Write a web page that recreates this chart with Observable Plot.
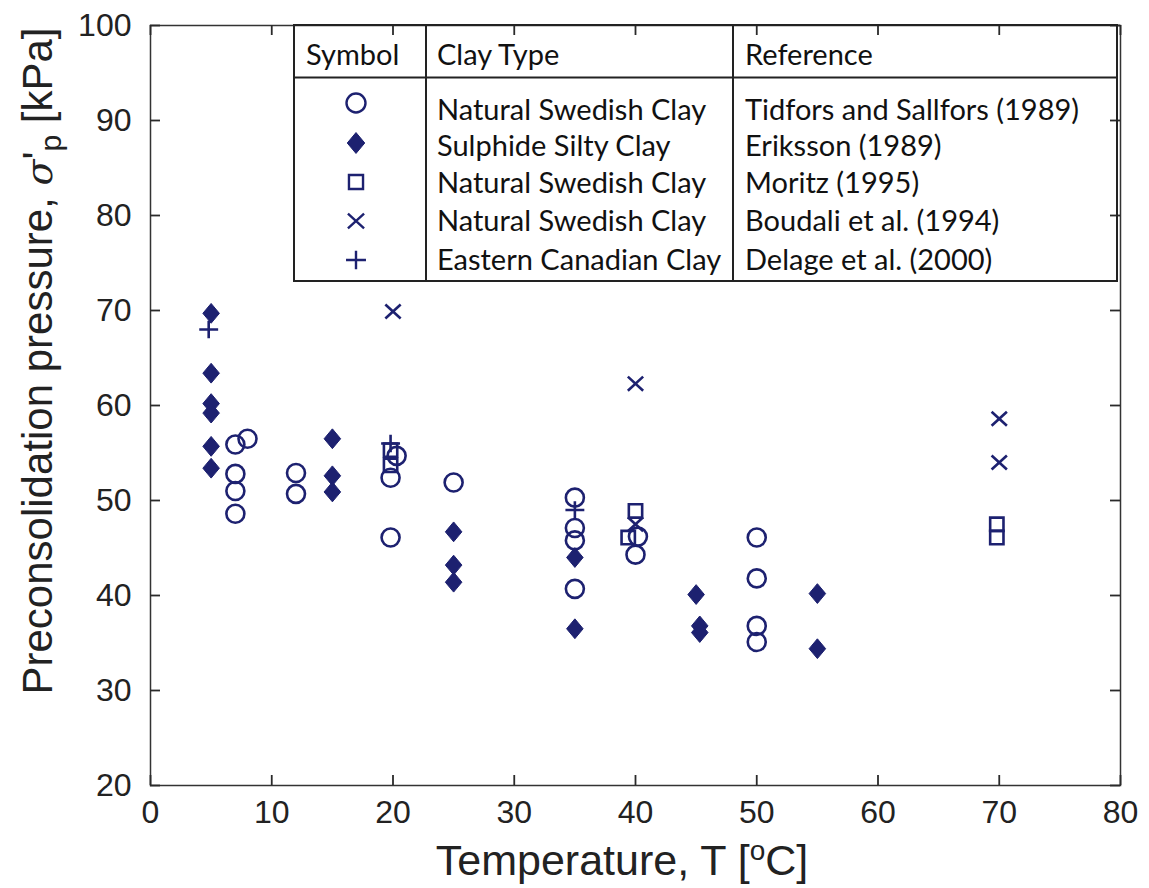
<!DOCTYPE html>
<html>
<head>
<meta charset="utf-8">
<script src="https://cdn.jsdelivr.net/npm/d3@7"></script>
<script src="https://cdn.jsdelivr.net/npm/@observablehq/plot@0.6"></script>
<style>
  body { margin: 0; background: #fff; }
  #chart svg { display: block; }
</style>
</head>
<body>
<div id="chart"></div>
<script>
const navy = "#1d2170";
const ink = "#222";

// axis ticks
const xTicks = [0, 10, 20, 30, 40, 50, 60, 70, 80];
const yTicks = [20, 30, 40, 50, 60, 70, 80, 90, 100];

// Tidfors and Sallfors (1989) — Natural Swedish Clay (open circles)
const tidforsT = [7, 8, 7, 7, 7, 12, 12, 20.3, 19.8, 19.8, 25, 35, 35, 35, 35, 40.2, 40, 50, 50, 50, 50];
const tidforsP = [55.9, 56.5, 52.8, 51.0, 48.6, 52.9, 50.7, 54.7, 52.4, 46.1, 51.9, 50.3, 47.1, 45.8, 40.7, 46.2, 44.3, 46.1, 41.8, 36.8, 35.1];

// Eriksson (1989) — Sulphide Silty Clay (filled diamonds)
const erikssonT = [5, 5, 5, 5, 5, 5, 15, 15, 15, 25, 25, 25, 35, 35, 45, 45.3, 45.3, 55, 55];
const erikssonP = [69.7, 63.4, 60.2, 59.2, 55.7, 53.4, 56.5, 52.6, 50.9, 46.7, 43.2, 41.4, 44.0, 36.5, 40.1, 36.8, 36.1, 40.2, 34.4];

// Moritz (1995) — Natural Swedish Clay (open squares)
const moritzT = [19.8, 19.8, 40, 39.4, 69.8, 69.8];
const moritzP = [55.3, 53.7, 48.9, 46.1, 47.5, 46.1];

// Boudali et al. (1994) — Natural Swedish Clay (crosses)
const boudaliT = [20, 40, 40, 70, 70];
const boudaliP = [69.9, 62.3, 47.5, 58.6, 54.0];

// Delage et al. (2000) — Eastern Canadian Clay (plus)
const delageT = [4.8, 19.8, 35];
const delageP = [68.0, 56.0, 49.0];

// legend table content
const legendHeaders = ["Symbol", "Clay Type", "Reference"];
const legendClay = ["Natural Swedish Clay", "Sulphide Silty Clay", "Natural Swedish Clay", "Natural Swedish Clay", "Eastern Canadian Clay"];
const legendRefs = ["Tidfors and Sallfors (1989)", "Eriksson (1989)", "Moritz (1995)", "Boudali et al. (1994)", "Delage et al. (2000)"];

// custom symbols (size = PI * r^2)
const rOf = (size) => Math.sqrt(size / Math.PI);
const circleSym = d3.symbolCircle;
const diamondSym = { draw(c, size) { const r = rOf(size); c.moveTo(0, -1.1 * r); c.lineTo(0.92 * r, 0); c.lineTo(0, 1.1 * r); c.lineTo(-0.92 * r, 0); c.closePath(); } };
const squareSym = { draw(c, size) { const r = rOf(size); const h = 0.74 * r; c.moveTo(-h, -h); c.lineTo(h, -h); c.lineTo(h, h); c.lineTo(-h, h); c.closePath(); } };
const timesSym = { draw(c, size) { const r = rOf(size); const a = 0.85 * r, b = 0.78 * r; c.moveTo(-a, -b); c.lineTo(a, b); c.moveTo(a, -b); c.lineTo(-a, b); } };
const plusSym = { draw(c, size) { const r = rOf(size); const a = 1.05 * r, b = 0.98 * r; c.moveTo(-a, 0); c.lineTo(a, 0); c.moveTo(0, -b); c.lineTo(0, b); } };

const series = [
  { T: tidforsT, P: tidforsP, symbol: circleSym, filled: false },
  { T: erikssonT, P: erikssonP, symbol: diamondSym, filled: true },
  { T: moritzT, P: moritzP, symbol: squareSym, filled: false },
  { T: boudaliT, P: boudaliP, symbol: timesSym, filled: false },
  { T: delageT, P: delageP, symbol: plusSym, filled: false }
];
const legendSymbols = [circleSym, diamondSym, squareSym, timesSym, plusSym];

const dotMarks = series.map(s => Plot.dot(
  s.T.map((t, i) => ({ T: t, P: s.P[i] })),
  { x: "T", y: "P", symbol: s.symbol, r: 9,
    fill: s.filled ? navy : "none", stroke: navy, strokeWidth: s.filled ? 1 : 2.6 }
));

// frame geometry
const W = 1149, H = 888, mL = 150, mR = 29, mT = 25, mB = 103, tickLen = 10;
const innerW = W - mL - mR, innerH = H - mT - mB;
const tickStyle = { stroke: "#2a2a2a", strokeWidth: 1.8 };

const svg = Plot.plot({
  width: W,
  height: H,
  marginLeft: mL,
  marginRight: mR,
  marginTop: mT,
  marginBottom: mB,
  x: { domain: [0, 80] },
  y: { domain: [20, 100] },
  style: { fontFamily: "'Liberation Sans', Arial, sans-serif", fontSize: "32px", color: ink, background: "#fff" },
  marks: [
    Plot.frame({ stroke: "#333", strokeWidth: 1.5 }),
    Plot.axisX({ ticks: xTicks, anchor: "bottom", tickSize: -tickLen, tickPadding: 15 + tickLen, label: null, ...tickStyle }),
    Plot.axisY({ ticks: yTicks, anchor: "left", tickSize: -tickLen, tickPadding: 19 + tickLen, label: null, ...tickStyle }),
    // inward ticks on the top and right sides
    Plot.ruleX(xTicks, { x: d => d, insetBottom: innerH - tickLen, ...tickStyle }),
    Plot.ruleY(yTicks, { y: d => d, insetLeft: innerW - tickLen, ...tickStyle }),
    ...dotMarks
  ]
});
document.getElementById("chart").appendChild(svg);

const s = d3.select(svg);

// axis titles with super/subscripts
const xl = s.append("text").attr("x", 622).attr("y", 875).attr("text-anchor", "middle")
  .attr("font-family", "'Liberation Sans', Arial, sans-serif").attr("font-size", 43).attr("fill", ink);
xl.append("tspan").text("Temperature, T [");
xl.append("tspan").attr("baseline-shift", "55%").attr("font-size", 28).text("o");
xl.append("tspan").text("C]");

const yl = s.append("text").attr("transform", "translate(52,361) rotate(-90)").attr("text-anchor", "middle")
  .attr("font-family", "'Liberation Sans', Arial, sans-serif").attr("font-size", 42).attr("fill", ink);
yl.append("tspan").text("Preconsolidation pressure, ");
yl.append("tspan").attr("font-family", "'DejaVu Serif', serif").attr("font-style", "italic").attr("font-size", 38).text("σ");
yl.append("tspan").text("'");
yl.append("tspan").attr("baseline-shift", "-30%").attr("font-size", 30).text("p");
yl.append("tspan").text(" [kPa]");

// legend table
const L = { x0: 294, x1: 1117, y0: 25, y1: 281, hy: 77.5, c1: 426, c2: 733 };
const g = s.append("g").attr("text-anchor", "start");
g.append("rect").attr("x", L.x0).attr("y", L.y0).attr("width", L.x1 - L.x0).attr("height", L.y1 - L.y0)
  .attr("fill", "none").attr("stroke", ink).attr("stroke-width", 2);
g.append("line").attr("x1", L.x0).attr("x2", L.x1).attr("y1", L.hy).attr("y2", L.hy).attr("stroke", ink).attr("stroke-width", 2);
[L.c1, L.c2].forEach(cx => g.append("line").attr("x1", cx).attr("x2", cx).attr("y1", L.y0).attr("y2", L.y1).attr("stroke", ink).attr("stroke-width", 2));

const tFont = "Lato, 'Open Sans', sans-serif";
const tSize = 29;
const colX = [306, 437, 745];
legendHeaders.forEach((h, i) => g.append("text").attr("x", colX[i]).attr("y", 65).attr("text-anchor", "start")
  .attr("font-family", tFont).attr("font-size", tSize).attr("fill", "#111").text(h));

const rowSymY = [103, 143, 182, 221, 260];
const rowTextY = [120, 156, 193, 231, 270];
legendSymbols.forEach((sym, i) => {
  const filled = sym === diamondSym;
  g.append("path").attr("transform", `translate(356,${rowSymY[i]})`)
    .attr("d", d3.symbol(sym, Math.PI * 9.5 * 9.5)())
    .attr("fill", filled ? navy : "none").attr("stroke", navy).attr("stroke-width", filled ? 1 : 2.4);
  g.append("text").attr("x", colX[1]).attr("y", rowTextY[i]).attr("text-anchor", "start").attr("font-family", tFont).attr("font-size", tSize).attr("fill", "#111").text(legendClay[i]);
  g.append("text").attr("x", colX[2]).attr("y", rowTextY[i]).attr("text-anchor", "start").attr("font-family", tFont).attr("font-size", tSize).attr("fill", "#111").text(legendRefs[i]);
});
</script>
</body>
</html>
